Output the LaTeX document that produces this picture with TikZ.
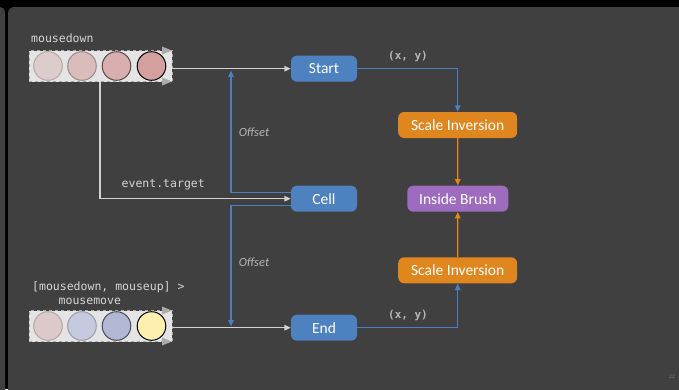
\documentclass[tikz,border=0pt]{standalone}
\usepackage{fontspec}
\setmainfont{Carlito}
\newfontfamily\codefont{DejaVu Sans Mono}
\usetikzlibrary{arrows.meta}

\definecolor{panelbg}{HTML}{404040}
\definecolor{stepblue}{HTML}{4E81BF}
\definecolor{scaleorange}{HTML}{E0861F}
\definecolor{brushpurple}{HTML}{9E6CBE}
\definecolor{wireblue}{HTML}{4A7FC0}
\definecolor{wiregray}{HTML}{D2D2D2}
\definecolor{codegray}{HTML}{D6D6D6}
\definecolor{streamfill}{HTML}{E4E4E4}
\definecolor{streamedge}{HTML}{ABABAB}

\begin{document}
\begin{tikzpicture}[x=1pt,y=-1pt,
  proc/.style={rounded corners=6pt, minimum height=26pt, inner sep=0pt,
    text=white, font=\fontsize{15.5}{18}\selectfont},
  blueproc/.style={proc, fill=stepblue, minimum width=66pt},
  orangeproc/.style={proc, fill=scaleorange, minimum width=119pt},
  purpleproc/.style={proc, fill=brushpurple, minimum width=101pt},
  tip/.style={-{Triangle[length=6.5pt,width=5.5pt]}},
  graywire/.style={draw=wiregray, line width=1.4pt, tip},
  bluewire/.style={draw=wireblue, line width=1.4pt, tip},
  orangewire/.style={draw=scaleorange, line width=1.4pt, tip},
  code/.style={text=codegray, font=\codefont\fontsize{11.5}{14}\selectfont, inner sep=0pt},
  coord/.style={text=codegray!85!black, font=\codefont\bfseries\fontsize{11}{13}\selectfont, inner sep=0pt},
  offsetlbl/.style={text=codegray!85!black, font=\itshape\fontsize{12.5}{14}\selectfont, inner sep=0pt},
  streambox/.style={fill=streamfill, draw=streamedge, dashed, line width=0.8pt,
    minimum width=143pt, minimum height=31pt, inner sep=0pt},
  marble/.style={circle, minimum size=28.6pt, inner sep=0pt, line width=1pt},
]
\useasboundingbox (0,0) rectangle (679,389);

% slide background
\fill[black] (0,0) rectangle (679,389);
\fill[panelbg, rounded corners=5pt] (-10,7) rectangle (5,400);
\fill[panelbg, rounded corners=6pt] (8,7) rectangle (690,396);

% top stream: mousedown
\node[code, anchor=west] (mdlabel) at (31,38) {mousedown};
\node[streambox] (topstream) at (100.5,66) {};
\fill[streamedge] (162,46.5) -- (172,50.5) -- (162,54.5) -- cycle;
\fill[streamedge] (162,77.5) -- (172,81.5) -- (162,85.5) -- cycle;
\node[marble, fill={rgb,255:red,220;green,204;blue,204}, draw={rgb,255:red,180;green,168;blue,168}] (m1) at (48,66) {};
\node[marble, fill={rgb,255:red,219;green,188;blue,188}, draw={rgb,255:red,154;green,136;blue,136}] (m2) at (82,66) {};
\node[marble, fill={rgb,255:red,216;green,174;blue,174}, draw={rgb,255:red,90;green,72;blue,72}] (m3) at (116.5,66) {};
\node[marble, fill={rgb,255:red,212;green,159;blue,159}, draw=black] (m4) at (151.5,66) {};

% bottom stream: mousemove between mousedown and mouseup
\node[code, anchor=west, align=left] (mmlabel) at (32,293)
  {[mousedown, mouseup] >\\\hspace*{26.5pt}mousemove};
\node[streambox] (botstream) at (100.5,326) {};
\fill[streamedge] (162,306.5) -- (172,310.5) -- (162,314.5) -- cycle;
\fill[streamedge] (162,337.5) -- (172,341.5) -- (162,345.5) -- cycle;
\node[marble, fill={rgb,255:red,220;green,201;blue,201}, draw={rgb,255:red,176;green,166;blue,166}] (n1) at (48,326) {};
\node[marble, fill={rgb,255:red,197;green,202;blue,222}, draw={rgb,255:red,153;green,154;blue,168}] (n2) at (82,326) {};
\node[marble, fill={rgb,255:red,178;green,183;blue,211}, draw={rgb,255:red,74;green,74;blue,88}] (n3) at (116.5,326) {};
\node[marble, fill={rgb,255:red,253;green,240;blue,174}, draw=black] (n4) at (151.5,326) {};

% processing nodes
\node[blueproc] (start) at (324,68.7) {Start};
\node[blueproc] (cell) at (324,198.7) {Cell};
\node[blueproc] (endn) at (324,327.7) {End};
\node[orangeproc] (scaletop) at (457.7,125) {Scale Inversion};
\node[purpleproc] (brush) at (457.8,198.7) {Inside Brush};
\node[orangeproc] (scalebot) at (457.7,270.3) {Scale Inversion};

% stream connectors
\draw[graywire] (topstream.east |- start) -- (start);
\draw[graywire] (botstream.east |- endn) -- (endn);
\draw[graywire] ([xshift=-0.5pt]topstream.south) |- (cell);
\node[code, anchor=west] (targetlbl) at (121.5,185) {event.target};

% offsets from the cell
\coordinate (offup) at (231,70.5);
\coordinate (offdown) at (231,326.5);
\draw[bluewire] ([yshift=6.5pt]cell.west) -| (offup);
\draw[bluewire] ([yshift=-7pt]cell.west) -| (offdown);
\node[offsetlbl] (offtop) at (254,132) {Offset};
\node[offsetlbl] (offbot) at (254,262) {Offset};

% coordinates into scale inversion
\draw[bluewire] (start.east) -| (scaletop.north);
\draw[bluewire] (endn.east) -| (scalebot.south);
\node[coord] (xytop) at (408,56) {(x, y)};
\node[coord] (xybot) at (408,315) {(x, y)};

% into the brush test
\draw[orangewire] (scaletop) -- (brush);
\draw[orangewire] (scalebot) -- (brush);

% page number
\node[text=gray, font=\fontsize{5.5}{6}\selectfont, inner sep=0pt] (pagenum) at (672,377) {22};
\end{tikzpicture}
\end{document}
